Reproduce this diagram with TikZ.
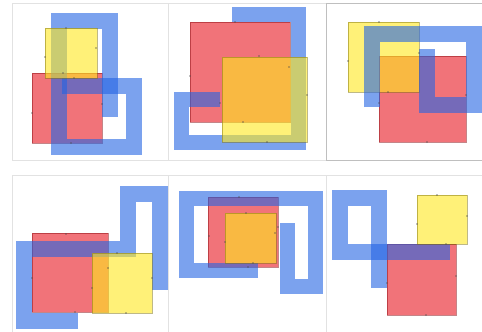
\documentclass[tikz,border=0pt]{standalone}
\usepackage{xcolor}
\usetikzlibrary{backgrounds}
\definecolor{bandblue}{RGB}{35,100,228}
\definecolor{sqred}{RGB}{232,22,32}
\definecolor{sqyellow}{RGB}{255,232,30}
\definecolor{framegray}{RGB}{226,226,226}
\tikzset{
  % pannelli
  panel/.style={draw=framegray,line width=0.8},
  % forme
  band/.style={draw=bandblue,draw opacity=0.6,line width=16,line join=miter},
  sq red/.style={fill=sqred,fill opacity=0.6,draw=sqred!60!black,draw opacity=0.5,line width=0.5},
  sq yellow/.style={fill=sqyellow,fill opacity=0.6,draw=sqyellow!50!black,draw opacity=0.5,line width=0.5},
  knob/.style={fill=black!70,fill opacity=0.7}
}

\begin{document}
\begin{tikzpicture}[x=1pt,y=-1pt]
  \useasboundingbox (0,0) rectangle (482,332);
  \fill[white] (0,0) rectangle (482,332);
  % cornici
  \draw[panel] (12,3) rectangle (168,160);
  \draw[panel] (168,3) rectangle (326,160);
  \draw[panel,draw=black!25] (326,3) rectangle (483,160);
  \draw[panel] (12,175) rectangle (168,333);
  \draw[panel] (168,175) rectangle (326,333);
  \draw[panel] (326,175) rectangle (483,333);

  % pannello 1
  \draw[sq red] (32,73) rectangle (102,143);
  \draw[band] (109.5,117) -- (109.5,20.5) -- (58.5,20.5) -- (58.5,146.5)
    -- (133.5,146.5) -- (133.5,85.5) -- (124,85.5);
  \draw[band] (124,85.5) -- (62,85.5);
  \draw[sq yellow] (45,28) rectangle (97,78);
  \foreach \p in {(66,28),(45,57),(96,48),(74,78),(63,73),(32,113),(102,104),(71,143)}
    \fill[knob] \p circle (0.9);

  % pannello 2
  \draw[sq red] (190,22) rectangle (290,122);
  \draw[band,line width=15] (232,14.5) -- (298.5,14.5) -- (298.5,142.5)
    -- (181.5,142.5) -- (181.5,99.5) -- (220,99.5);
  \draw[sq yellow] (222,57) rectangle (307,142);
  \foreach \p in {(235,22),(190,76),(289,67),(243,122),(259,56),(307,95),(267,142),(220,103)}
    \fill[knob] \p circle (0.9);

  % pannello 3
  \draw[sq red] (379,56) rectangle (466,142);
  \draw[sq yellow] (348,22) rectangle (419,92);
  \draw[band] (371.5,107) -- (371.5,33.5) -- (473.5,33.5) -- (473.5,105)
    -- (426.5,105) -- (426.5,49);
  \foreach \p in {(379,22),(348,61),(388,92),(419,53),(379,103),(427,142),(466,95)}
    \fill[knob] \p circle (0.9);

  % pannello 4
  \draw[sq red] (32,233) rectangle (108,312);
  \draw[band] (78,321) -- (23.5,321) -- (23.5,249) -- (127.5,249)
    -- (127.5,193.5) -- (159.5,193.5) -- (159.5,290);
  \draw[sq yellow] (92,253) rectangle (152,313);
  \foreach \p in {(66,234),(32,278),(108,268),(75,312),(117,253),(92,288),(152,278),(126,313)}
    \fill[knob] \p circle (0.9);

  % pannello 5
  \draw[sq red] (208,197) rectangle (278,267);
  \draw[band,line width=15] (258,270) -- (186.5,270) -- (186.5,198) -- (315.5,198)
    -- (315.5,286) -- (287.5,286) -- (287.5,223);
  \draw[sq yellow] (225,213) rectangle (276,263);
  \foreach \p in {(239,197),(209,236),(278,227),(248,267),(246,213),(225,242),(275,233),(253,263)}
    \fill[knob] \p circle (0.9);

  % pannello 6
  \draw[sq red] (387,244) rectangle (456,315);
  \draw[band] (450,251.5) -- (339.5,251.5) -- (339.5,198) -- (378.5,198) -- (378.5,228);
  \draw[band] (378.5,228) -- (378.5,288);
  \draw[sq yellow] (417,195) rectangle (467,244);
  \foreach \p in {(437,195),(467,216),(417,224),(446,244),(456,276),(426,315),(387,283)}
    \fill[knob] \p circle (0.9);
\end{tikzpicture}
\end{document}
